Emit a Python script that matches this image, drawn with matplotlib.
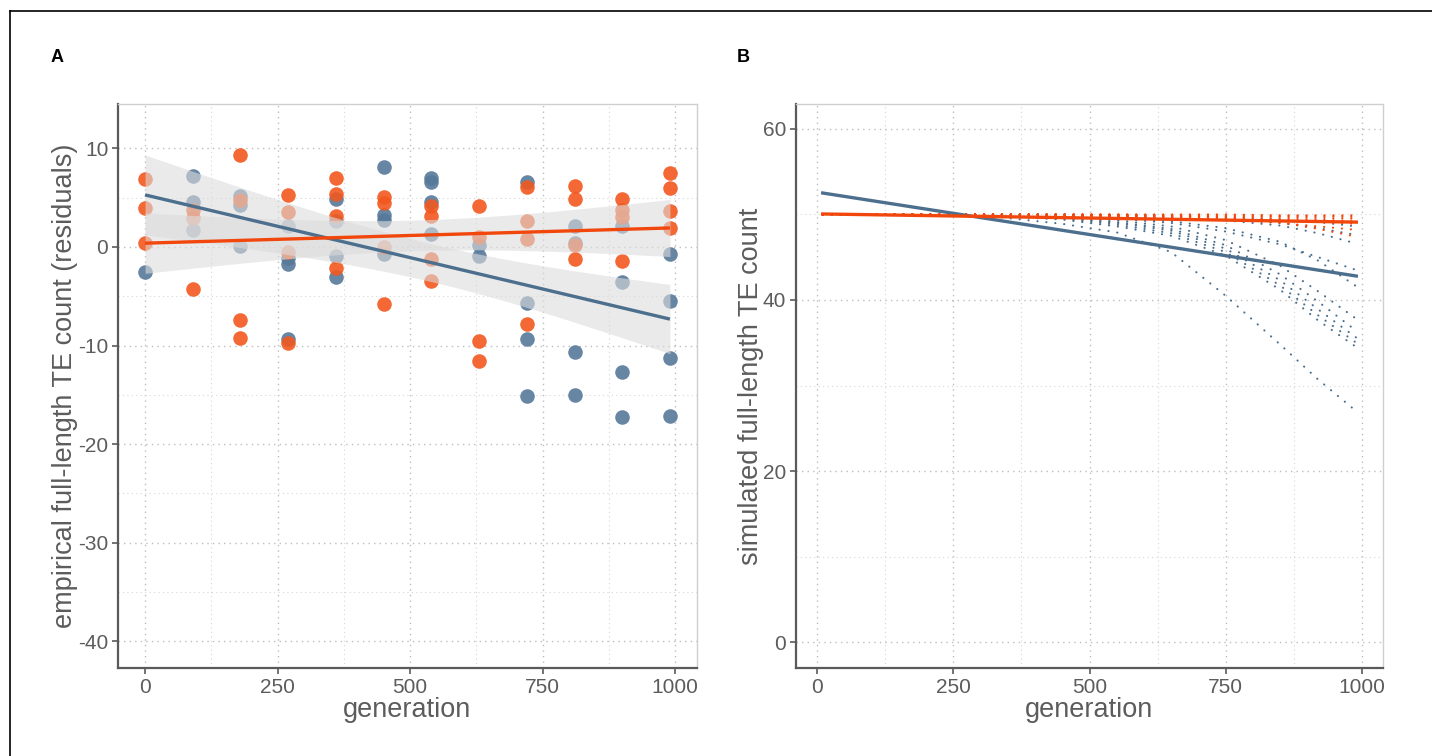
import numpy as np
import matplotlib
matplotlib.use("Agg")
import matplotlib.pyplot as plt
from matplotlib.lines import Line2D

plt.rcParams['font.family'] = ['Liberation Sans', 'DejaVu Sans']
plt.rcParams['axes.unicode_minus'] = False

# ---------------- Panel A data (residuals) ----------------
gens_A = [0, 90, 180, 270, 360, 450, 540, 630, 720, 810, 900, 990]
blue_resid = [
    [-2.5],
    [7.2, 4.6, 1.7],
    [5.2, 4.3, 0.1],
    [2.1, -1.1, -1.7, -9.3],
    [4.9, 2.6, -0.9, -3.0],
    [8.1, 3.25, 2.7, -0.7],
    [7.0, 6.6, 4.6, 1.3],
    [0.2, -0.9],
    [6.6, -5.7, -9.3, -15.1],
    [2.1, 0.45, -10.7, -15.0],
    [2.1, -3.6, -12.7, -17.2],
    [-0.75, -5.5, -11.3, -17.1],
]
orange_resid = [
    [6.9, 4.0, 0.4],
    [3.8, 2.9, -4.3],
    [9.3, 4.8, -7.4, -9.2],
    [5.3, 3.5, -0.5, -9.7],
    [7.0, 5.4, 3.1, -2.1],
    [5.1, 4.5, 0.0, -5.8],
    [4.2, 3.1, -1.25, -3.5],
    [4.2, 1.0, -9.5, -11.6],
    [6.05, 2.6, 0.8, -7.8],
    [6.2, 4.9, 0.2, -1.25],
    [4.9, 3.75, 3.0, -1.4],
    [7.55, 5.95, 3.6, 1.9],
]

# ---------------- Panel B data (simulated trajectories) ----------------
gens_B = [10, 300, 450, 550, 650, 750, 850, 920, 990]
blue_sims = [
    [50, 49.9, 48.9, 47.9, 45.6, 40.5, 34.8, 30.7, 27.0],
    [50, 49.9, 49.4, 48.6, 47.5, 45.2, 41.2, 37.6, 34.5],
    [50, 49.9, 49.5, 48.8, 47.8, 45.6, 41.7, 38.2, 35.0],
    [50, 49.9, 49.6, 49.0, 48.1, 46.0, 42.3, 38.9, 35.6],
    [50, 49.9, 49.6, 49.1, 48.3, 46.4, 43.0, 39.8, 36.4],
    [50, 49.9, 49.7, 49.3, 48.6, 47.0, 44.0, 41.0, 37.8],
    [50, 50.0, 49.8, 49.6, 49.2, 48.4, 46.8, 44.6, 41.6],
    [50, 50.0, 49.8, 49.5, 49.0, 48.0, 46.5, 45.0, 43.5],
    [50, 50.0, 49.9, 49.8, 49.6, 49.3, 48.7, 47.8, 46.6],
    [50, 50.0, 49.9, 49.8, 49.7, 49.5, 49.0, 48.4, 47.6],
    [50, 50.0, 50.0, 49.9, 49.8, 49.7, 49.4, 49.1, 48.6],
]
orange_sims = [
    [50, 50.0, 50.0, 50.0, 49.9, 49.9, 49.8, 49.8, 49.7],
    [50, 50.0, 50.0, 49.9, 49.9, 49.8, 49.7, 49.6, 49.5],
    [50, 50.0, 49.9, 49.9, 49.8, 49.7, 49.5, 49.4, 49.2],
    [50, 50.0, 49.9, 49.8, 49.7, 49.5, 49.3, 49.1, 48.9],
    [50, 50.0, 49.9, 49.8, 49.6, 49.4, 49.0, 48.6, 48.2],
    [50, 50.0, 50.0, 49.9, 49.8, 49.6, 49.1, 48.3, 47.4],
    [50, 50.0, 50.0, 50.0, 50.0, 50.0, 49.9, 49.9, 49.9],
]
fit_gens_B = [10, 990]
blue_fit_B = [52.5, 42.8]
orange_fit_B = [50.05, 49.1]

# ---------------- styling ----------------
BLUE_PT = '#56799A'
BLUE_LN = '#4C6F8D'
ORANGE_PT = '#F2581F'
ORANGE_LN = '#F2470C'
TXT = '#5c5c5c'
AX_DARK = '#5a5a5a'

fig = plt.figure(figsize=(14.32, 7.56), dpi=100)
W, H = 1432, 756
axA = fig.add_axes([118 / W, (H - 668) / H, (697 - 118) / W, (668 - 104) / H])
axB = fig.add_axes([796 / W, (H - 668) / H, (1383 - 796) / W, (668 - 104) / H])


def style(ax):
    for s in ['top', 'right']:
        ax.spines[s].set_color('#cfcfcf')
        ax.spines[s].set_linewidth(1.0)
    for s in ['left', 'bottom']:
        ax.spines[s].set_color(AX_DARK)
        ax.spines[s].set_linewidth(1.6)
    ax.tick_params(which='major', length=4, width=1.2, color=AX_DARK,
                   labelsize=15, labelcolor=TXT, pad=3)
    ax.tick_params(which='minor', length=0)
    ax.grid(which='major', color='#bdbdbd', linestyle=(0, (1, 3)), linewidth=1.0)
    ax.grid(which='minor', color='#d6d6d6', linestyle=(0, (1, 3)), linewidth=0.8)
    ax.set_axisbelow(True)


def lm_band(x, y, xs, tval=2.02):
    x = np.asarray(x, float)
    y = np.asarray(y, float)
    b1, b0 = np.polyfit(x, y, 1)
    n = len(x)
    resid = y - (b0 + b1 * x)
    s = np.sqrt(np.sum(resid ** 2) / (n - 2))
    xm = x.mean()
    sxx = np.sum((x - xm) ** 2)
    se = s * np.sqrt(1.0 / n + (xs - xm) ** 2 / sxx)
    yh = b0 + b1 * xs
    return yh, yh - tval * se, yh + tval * se


# ---------------- Panel A ----------------
bx = [g for g, vals in zip(gens_A, blue_resid) for _ in vals]
by = [v for vals in blue_resid for v in vals]
ox = [g for g, vals in zip(gens_A, orange_resid) for _ in vals]
oy = [v for vals in orange_resid for v in vals]

axA.scatter(bx, by, s=110, color=BLUE_PT, alpha=0.9, linewidths=0, zorder=2)
axA.scatter(ox, oy, s=110, color=ORANGE_PT, alpha=0.9, linewidths=0, zorder=2)

xs = np.linspace(min(gens_A), max(gens_A), 100)
for xx, yy, col in [(bx, by, BLUE_LN), (ox, oy, ORANGE_LN)]:
    yh, lo, hi = lm_band(xx, yy, xs)
    axA.fill_between(xs, lo, hi, color='#dcdcdc', alpha=0.6, linewidth=0, zorder=3)
for xx, yy, col in [(bx, by, BLUE_LN), (ox, oy, ORANGE_LN)]:
    yh, lo, hi = lm_band(xx, yy, xs)
    axA.plot(xs, yh, color=col, linewidth=2.4, zorder=4, solid_capstyle='butt')

axA.set_xlim(-51, 1041)
axA.set_ylim(-42.7, 14.5)
axA.set_xticks([0, 250, 500, 750, 1000])
axA.set_xticks([125, 375, 625, 875], minor=True)
axA.set_yticks([-40, -30, -20, -10, 0, 10])
axA.set_yticks([-35, -25, -15, -5, 5], minor=True)
style(axA)
axA.set_xlabel('generation', fontsize=19.5, color=TXT, labelpad=0)
axA.set_ylabel('empirical full-length TE count (residuals)', fontsize=19.5, color=TXT, labelpad=0)

# ---------------- Panel B ----------------
dot = (0, (0.1, 4.2))
for traj in blue_sims:
    axB.plot(gens_B, traj, color=BLUE_LN, linewidth=1.5, linestyle=dot,
             dash_capstyle='round', zorder=2)
for traj in orange_sims:
    axB.plot(gens_B, traj, color=ORANGE_LN, linewidth=1.5, linestyle=dot,
             dash_capstyle='round', zorder=3)
axB.plot(fit_gens_B, blue_fit_B, color=BLUE_LN, linewidth=2.4, zorder=4)
axB.plot(fit_gens_B, orange_fit_B, color=ORANGE_LN, linewidth=2.4, zorder=5)

axB.set_xlim(-39, 1039)
axB.set_ylim(-3.0, 62.9)
axB.set_xticks([0, 250, 500, 750, 1000])
axB.set_xticks([125, 375, 625, 875], minor=True)
axB.set_yticks([0, 20, 40, 60])
axB.set_yticks([10, 30, 50], minor=True)
style(axB)
axB.set_xlabel('generation', fontsize=19.5, color=TXT, labelpad=0)
axB.set_ylabel('simulated full-length TE count', fontsize=19.5, color=TXT, labelpad=-1)

# panel tags
fig.text(57 / W, 1 - 58 / H, 'A', fontsize=13, fontweight='bold', ha='center', va='center')
fig.text(743 / W, 1 - 58 / H, 'B', fontsize=13, fontweight='bold', ha='center', va='center')

# outer frame lines (top and left)
fig.add_artist(Line2D([9.5 / W, 1.0], [1 - 10.5 / H, 1 - 10.5 / H], color='black',
                      linewidth=1.2, transform=fig.transFigure))
fig.add_artist(Line2D([9.5 / W, 9.5 / W], [0.0, 1 - 10.5 / H], color='black',
                      linewidth=1.2, transform=fig.transFigure))

fig.savefig('out.png', dpi=100)
